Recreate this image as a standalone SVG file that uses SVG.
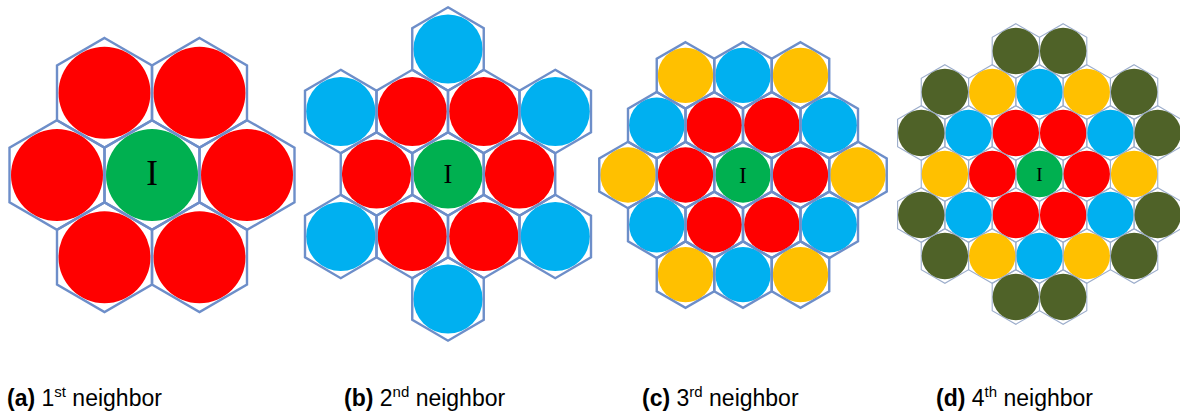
<svg xmlns="http://www.w3.org/2000/svg" width="1180" height="412" viewBox="0 0 1180 412">
<style>
.hx{fill:none;stroke:#6d8ec9;stroke-width:2.4;stroke-linejoin:miter}
.hxd{fill:none;stroke:#9cadcb;stroke-width:1.1}
.r{fill:#ff0000}.g{fill:#00b050}.b{fill:#00b0f0}.y{fill:#ffc000}.o{fill:#4f6228}
.lbl{font-family:"Liberation Serif","Times New Roman",serif;fill:#000;text-anchor:middle}
.cap{font-family:"Liberation Sans",Arial,sans-serif;font-size:23px;fill:#000}
.bold{font-weight:bold}
</style>
<defs>
<polygon id="hexA" points="0,-54.8 47.5,-27.4 47.5,27.4 0,54.8 -47.5,27.4 -47.5,-27.4"/>
<polygon id="hexB" points="0,-41.7 35.75,-20.85 35.75,20.85 0,41.7 -35.75,20.85 -35.75,-20.85"/>
<polygon id="hexC" points="0,-33.2 28.75,-16.6 28.75,16.6 0,33.2 -28.75,16.6 -28.75,-16.6"/>
<polygon id="hexD" points="0,-27.3 23.65,-13.65 23.65,13.65 0,27.3 -23.65,13.65 -23.65,-13.65"/>
</defs>
<rect width="1180" height="412" fill="#fff"/>

<!-- Panel a -->
<g id="panel-a">
<g id="a-center"><circle class="g" cx="152" cy="175" r="46"/><use href="#hexA" class="hx" x="152" y="175"/><text class="lbl" x="152" y="185" font-size="35">I</text></g>
<g id="a-n1"><circle class="r" cx="57" cy="175" r="46"/><use href="#hexA" class="hx" x="57" y="175"/></g>
<g id="a-n2"><circle class="r" cx="247" cy="175" r="46"/><use href="#hexA" class="hx" x="247" y="175"/></g>
<g id="a-n3"><circle class="r" cx="104.5" cy="92.8" r="46"/><use href="#hexA" class="hx" x="104.5" y="92.8"/></g>
<g id="a-n4"><circle class="r" cx="199.5" cy="92.8" r="46"/><use href="#hexA" class="hx" x="199.5" y="92.8"/></g>
<g id="a-n5"><circle class="r" cx="104.5" cy="257.2" r="46"/><use href="#hexA" class="hx" x="104.5" y="257.2"/></g>
<g id="a-n6"><circle class="r" cx="199.5" cy="257.2" r="46"/><use href="#hexA" class="hx" x="199.5" y="257.2"/></g>
</g>

<!-- Panel b -->
<g id="panel-b">
<g id="b-center"><circle class="g" cx="448" cy="174" r="34.6"/><use href="#hexB" class="hx" x="448" y="174"/><text class="lbl" x="448" y="183.3" font-size="26.5">I</text></g>
<g id="b-r1"><circle class="r" cx="376.5" cy="174" r="34.6"/><use href="#hexB" class="hx" x="376.5" y="174"/></g>
<g id="b-r2"><circle class="r" cx="519.5" cy="174" r="34.6"/><use href="#hexB" class="hx" x="519.5" y="174"/></g>
<g id="b-r3"><circle class="r" cx="412.25" cy="111.5" r="34.6"/><use href="#hexB" class="hx" x="412.25" y="111.5"/></g>
<g id="b-r4"><circle class="r" cx="483.75" cy="111.5" r="34.6"/><use href="#hexB" class="hx" x="483.75" y="111.5"/></g>
<g id="b-r5"><circle class="r" cx="412.25" cy="236.5" r="34.6"/><use href="#hexB" class="hx" x="412.25" y="236.5"/></g>
<g id="b-r6"><circle class="r" cx="483.75" cy="236.5" r="34.6"/><use href="#hexB" class="hx" x="483.75" y="236.5"/></g>
<g id="b-b1"><circle class="b" cx="448" cy="49" r="34.6"/><use href="#hexB" class="hx" x="448" y="49"/></g>
<g id="b-b2"><circle class="b" cx="448" cy="299" r="34.6"/><use href="#hexB" class="hx" x="448" y="299"/></g>
<g id="b-b3"><circle class="b" cx="340.75" cy="111.5" r="34.6"/><use href="#hexB" class="hx" x="340.75" y="111.5"/></g>
<g id="b-b4"><circle class="b" cx="555.25" cy="111.5" r="34.6"/><use href="#hexB" class="hx" x="555.25" y="111.5"/></g>
<g id="b-b5"><circle class="b" cx="340.75" cy="236.5" r="34.6"/><use href="#hexB" class="hx" x="340.75" y="236.5"/></g>
<g id="b-b6"><circle class="b" cx="555.25" cy="236.5" r="34.6"/><use href="#hexB" class="hx" x="555.25" y="236.5"/></g>
</g>

<!-- Panel c -->
<g id="panel-c">
<g id="c-center"><circle class="g" cx="743" cy="175" r="27.7"/><use href="#hexC" class="hx" x="743" y="175"/><text class="lbl" x="743" y="183.3" font-size="23.5">I</text></g>
<g id="c-r1"><circle class="r" cx="685.5" cy="175" r="27.7"/><use href="#hexC" class="hx" x="685.5" y="175"/></g>
<g id="c-r2"><circle class="r" cx="800.5" cy="175" r="27.7"/><use href="#hexC" class="hx" x="800.5" y="175"/></g>
<g id="c-r3"><circle class="r" cx="714.25" cy="125.2" r="27.7"/><use href="#hexC" class="hx" x="714.25" y="125.2"/></g>
<g id="c-r4"><circle class="r" cx="771.75" cy="125.2" r="27.7"/><use href="#hexC" class="hx" x="771.75" y="125.2"/></g>
<g id="c-r5"><circle class="r" cx="714.25" cy="224.8" r="27.7"/><use href="#hexC" class="hx" x="714.25" y="224.8"/></g>
<g id="c-r6"><circle class="r" cx="771.75" cy="224.8" r="27.7"/><use href="#hexC" class="hx" x="771.75" y="224.8"/></g>
<g id="c-b1"><circle class="b" cx="743" cy="75.4" r="27.7"/><use href="#hexC" class="hx" x="743" y="75.4"/></g>
<g id="c-b2"><circle class="b" cx="743" cy="274.6" r="27.7"/><use href="#hexC" class="hx" x="743" y="274.6"/></g>
<g id="c-b3"><circle class="b" cx="656.75" cy="125.2" r="27.7"/><use href="#hexC" class="hx" x="656.75" y="125.2"/></g>
<g id="c-b4"><circle class="b" cx="829.25" cy="125.2" r="27.7"/><use href="#hexC" class="hx" x="829.25" y="125.2"/></g>
<g id="c-b5"><circle class="b" cx="656.75" cy="224.8" r="27.7"/><use href="#hexC" class="hx" x="656.75" y="224.8"/></g>
<g id="c-b6"><circle class="b" cx="829.25" cy="224.8" r="27.7"/><use href="#hexC" class="hx" x="829.25" y="224.8"/></g>
<g id="c-y1"><circle class="y" cx="628" cy="175" r="27.7"/><use href="#hexC" class="hx" x="628" y="175"/></g>
<g id="c-y2"><circle class="y" cx="858" cy="175" r="27.7"/><use href="#hexC" class="hx" x="858" y="175"/></g>
<g id="c-y3"><circle class="y" cx="685.5" cy="75.4" r="27.7"/><use href="#hexC" class="hx" x="685.5" y="75.4"/></g>
<g id="c-y4"><circle class="y" cx="800.5" cy="75.4" r="27.7"/><use href="#hexC" class="hx" x="800.5" y="75.4"/></g>
<g id="c-y5"><circle class="y" cx="685.5" cy="274.6" r="27.7"/><use href="#hexC" class="hx" x="685.5" y="274.6"/></g>
<g id="c-y6"><circle class="y" cx="800.5" cy="274.6" r="27.7"/><use href="#hexC" class="hx" x="800.5" y="274.6"/></g>
</g>

<!-- Panel d -->
<g id="panel-d">
<g id="d-center"><use href="#hexD" class="hxd" x="1039.5" y="174"/><circle class="g" cx="1039.5" cy="174" r="23.2"/><text class="lbl" x="1039.5" y="181" font-size="19">I</text></g>
<g id="d-r1"><use href="#hexD" class="hxd" x="992.2" y="174"/><circle class="r" cx="992.2" cy="174" r="23.2"/></g>
<g id="d-r2"><use href="#hexD" class="hxd" x="1086.8" y="174"/><circle class="r" cx="1086.8" cy="174" r="23.2"/></g>
<g id="d-r3"><use href="#hexD" class="hxd" x="1015.85" y="133"/><circle class="r" cx="1015.85" cy="133" r="23.2"/></g>
<g id="d-r4"><use href="#hexD" class="hxd" x="1063.15" y="133"/><circle class="r" cx="1063.15" cy="133" r="23.2"/></g>
<g id="d-r5"><use href="#hexD" class="hxd" x="1015.85" y="215"/><circle class="r" cx="1015.85" cy="215" r="23.2"/></g>
<g id="d-r6"><use href="#hexD" class="hxd" x="1063.15" y="215"/><circle class="r" cx="1063.15" cy="215" r="23.2"/></g>
<g id="d-b1"><use href="#hexD" class="hxd" x="1039.5" y="92"/><circle class="b" cx="1039.5" cy="92" r="23.2"/></g>
<g id="d-b2"><use href="#hexD" class="hxd" x="1039.5" y="256"/><circle class="b" cx="1039.5" cy="256" r="23.2"/></g>
<g id="d-b3"><use href="#hexD" class="hxd" x="968.55" y="133"/><circle class="b" cx="968.55" cy="133" r="23.2"/></g>
<g id="d-b4"><use href="#hexD" class="hxd" x="1110.45" y="133"/><circle class="b" cx="1110.45" cy="133" r="23.2"/></g>
<g id="d-b5"><use href="#hexD" class="hxd" x="968.55" y="215"/><circle class="b" cx="968.55" cy="215" r="23.2"/></g>
<g id="d-b6"><use href="#hexD" class="hxd" x="1110.45" y="215"/><circle class="b" cx="1110.45" cy="215" r="23.2"/></g>
<g id="d-y1"><use href="#hexD" class="hxd" x="944.9" y="174"/><circle class="y" cx="944.9" cy="174" r="23.2"/></g>
<g id="d-y2"><use href="#hexD" class="hxd" x="1134.1" y="174"/><circle class="y" cx="1134.1" cy="174" r="23.2"/></g>
<g id="d-y3"><use href="#hexD" class="hxd" x="992.2" y="92"/><circle class="y" cx="992.2" cy="92" r="23.2"/></g>
<g id="d-y4"><use href="#hexD" class="hxd" x="1086.8" y="92"/><circle class="y" cx="1086.8" cy="92" r="23.2"/></g>
<g id="d-y5"><use href="#hexD" class="hxd" x="992.2" y="256"/><circle class="y" cx="992.2" cy="256" r="23.2"/></g>
<g id="d-y6"><use href="#hexD" class="hxd" x="1086.8" y="256"/><circle class="y" cx="1086.8" cy="256" r="23.2"/></g>
<g id="d-o1"><use href="#hexD" class="hxd" x="1015.85" y="51"/><circle class="o" cx="1015.85" cy="51" r="23.2"/></g>
<g id="d-o2"><use href="#hexD" class="hxd" x="1063.15" y="51"/><circle class="o" cx="1063.15" cy="51" r="23.2"/></g>
<g id="d-o3"><use href="#hexD" class="hxd" x="1015.85" y="297"/><circle class="o" cx="1015.85" cy="297" r="23.2"/></g>
<g id="d-o4"><use href="#hexD" class="hxd" x="1063.15" y="297"/><circle class="o" cx="1063.15" cy="297" r="23.2"/></g>
<g id="d-o5"><use href="#hexD" class="hxd" x="944.9" y="92"/><circle class="o" cx="944.9" cy="92" r="23.2"/></g>
<g id="d-o6"><use href="#hexD" class="hxd" x="1134.1" y="92"/><circle class="o" cx="1134.1" cy="92" r="23.2"/></g>
<g id="d-o7"><use href="#hexD" class="hxd" x="944.9" y="256"/><circle class="o" cx="944.9" cy="256" r="23.2"/></g>
<g id="d-o8"><use href="#hexD" class="hxd" x="1134.1" y="256"/><circle class="o" cx="1134.1" cy="256" r="23.2"/></g>
<g id="d-o9"><use href="#hexD" class="hxd" x="921.25" y="133"/><circle class="o" cx="921.25" cy="133" r="23.2"/></g>
<g id="d-o10"><use href="#hexD" class="hxd" x="1157.75" y="133"/><circle class="o" cx="1157.75" cy="133" r="23.2"/></g>
<g id="d-o11"><use href="#hexD" class="hxd" x="921.25" y="215"/><circle class="o" cx="921.25" cy="215" r="23.2"/></g>
<g id="d-o12"><use href="#hexD" class="hxd" x="1157.75" y="215"/><circle class="o" cx="1157.75" cy="215" r="23.2"/></g>
</g>

<g id="connectors"></g>

<!-- Captions -->
<g id="captions">
<text class="cap" x="7" y="405.5"><tspan class="bold">(a)</tspan> 1<tspan font-size="15" dy="-9">st</tspan><tspan dy="9"> neighbor</tspan></text>
<text class="cap" x="344" y="405.5"><tspan class="bold">(b)</tspan> 2<tspan font-size="15" dy="-9">nd</tspan><tspan dy="9"> neighbor</tspan></text>
<text class="cap" x="642" y="405.5"><tspan class="bold">(c)</tspan> 3<tspan font-size="15" dy="-9">rd</tspan><tspan dy="9"> neighbor</tspan></text>
<text class="cap" x="936" y="405.5"><tspan class="bold">(d)</tspan> 4<tspan font-size="15" dy="-9">th</tspan><tspan dy="9"> neighbor</tspan></text>
</g>
</svg>
